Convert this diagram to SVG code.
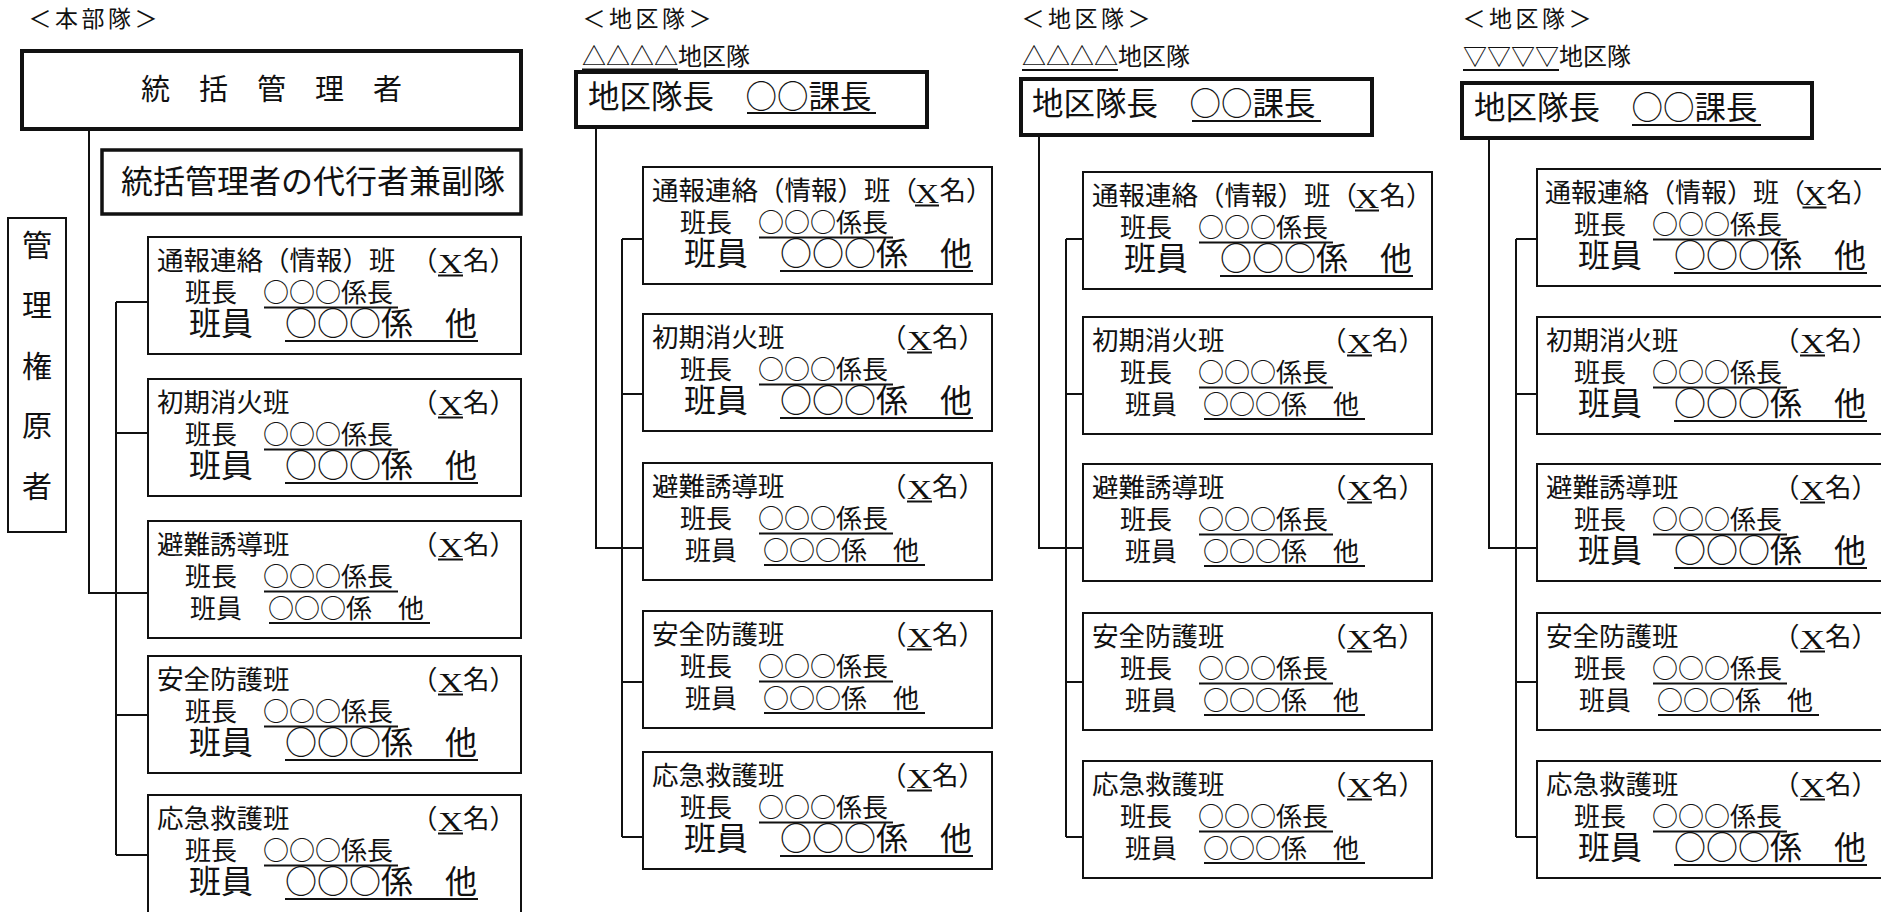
<svg xmlns="http://www.w3.org/2000/svg" width="1881" height="912" viewBox="0 0 1881 912">
<style>
.jp{font-family:"Noto Sans CJK JP","Noto Sans CJK SC",sans-serif;fill:#111}
.hd{font-size:23px;letter-spacing:3.5px}
.sub{font-size:24px}
.t1{font-size:26.5px}
.t2{font-size:26px}
.tb{font-size:32px}
.ld{font-size:31.5px}
.x{font-family:"Liberation Serif",serif;font-size:27px;fill:#111}
.box{fill:#fff;stroke:#111;stroke-width:2}
.thick{stroke-width:4}
.ul{stroke:#111;stroke-width:2}
.conn{fill:none;stroke:#111;stroke-width:2}
</style>
<defs>
<g id="l2">
<text class="jp t2" x="37" y="64.5">班長　○○○係長</text>
<line class="ul" x1="116" y1="70.5" x2="250" y2="70.5"/>
</g>
<g id="l3b">
<text class="jp tb" x="41" y="98">班員　○○○係　他</text>
<line class="ul" x1="137" y1="104" x2="330" y2="104"/>
</g>
<g id="l3s">
<text class="jp t2" x="42" y="97">班員　○○○係　他</text>
<line class="ul" x1="121" y1="102" x2="282" y2="102"/>
</g>
</defs>
<rect width="1881" height="912" fill="#fff"/>

<!-- headers -->
<g id="headers">
<text class="jp hd" x="28.5" y="27">＜本部隊＞</text>
<text class="jp hd" x="582.5" y="27">＜地区隊＞</text>
<text class="jp hd" x="1021.5" y="27">＜地区隊＞</text>
<text class="jp hd" x="1462.5" y="27">＜地区隊＞</text>
<text class="jp sub" x="582" y="65">△△△△地区隊</text>
<line class="ul" x1="582" y1="69.5" x2="678" y2="69.5"/>
<text class="jp sub" x="1022" y="65">△△△△地区隊</text>
<line class="ul" x1="1022" y1="70" x2="1118" y2="70"/>
<text class="jp sub" x="1463" y="65">▽▽▽▽地区隊</text>
<line class="ul" x1="1463" y1="70" x2="1559" y2="70"/>
</g>

<!-- connectors -->
<g id="connectors" class="conn">
<path d="M89,129 V593 H148"/>
<path d="M116,302 V855"/>
<path d="M116,302 H148 M116,433 H148 M116,715 H148 M116,855 H148"/>
<path d="M596,127 V548 H643"/>
<path d="M622,239 V837"/>
<path d="M622,239 H643 M622,394 H643 M622,682 H643 M622,837 H643"/>
<path d="M1039,135 V548 H1083"/>
<path d="M1066,239 V837"/>
<path d="M1066,239 H1083 M1066,394 H1083 M1066,682 H1083 M1066,837 H1083"/>
<path d="M1489,138 V548 H1537"/>
<path d="M1516,239 V837"/>
<path d="M1516,239 H1537 M1516,394 H1537 M1516,682 H1537 M1516,837 H1537"/>
</g>

<!-- column 1: 本部隊 -->
<g id="sokatsu">
<rect class="box thick" x="22" y="51" width="499" height="78"/>
<text class="jp" style="font-size:29px" x="271.5" y="100" text-anchor="middle">統　括　管　理　者</text>
</g>
<g id="dairi">
<rect class="box" style="stroke-width:3.5" x="102" y="150" width="419" height="64"/>
<text class="jp" style="font-size:32px" x="121" y="193">統括管理者の代行者兼副隊</text>
</g>
<g id="kanrikengensha">
<rect class="box" x="8" y="218" width="58" height="314"/>
<g class="jp" style="font-size:30px" text-anchor="middle">
<text x="37" y="256">管</text>
<text x="37" y="316">理</text>
<text x="37" y="377">権</text>
<text x="37" y="436">原</text>
<text x="37" y="497">者</text>
</g>
</g>

<g id="h1" transform="translate(148,237)">
<rect class="box" width="373" height="117"/>
<text class="jp t1" x="9" y="33">通報連絡（情報）班</text>
<text class="jp t1" x="263" y="33">（</text><text class="x" x="290" y="36" textLength="25" lengthAdjust="spacingAndGlyphs">X</text><line class="ul" x1="290" y1="38.5" x2="315" y2="38.5"/><text class="jp t1" x="315" y="33">名）</text>
<use href="#l2"/><use href="#l3b"/>
</g>
<g id="h2" transform="translate(148,379)">
<rect class="box" width="373" height="117"/>
<text class="jp t1" x="9" y="33">初期消火班</text>
<text class="jp t1" x="263" y="33">（</text><text class="x" x="290" y="36" textLength="25" lengthAdjust="spacingAndGlyphs">X</text><line class="ul" x1="290" y1="38.5" x2="315" y2="38.5"/><text class="jp t1" x="315" y="33">名）</text>
<use href="#l2"/><use href="#l3b"/>
</g>
<g id="h3" transform="translate(148,521)">
<rect class="box" width="373" height="117"/>
<text class="jp t1" x="9" y="33">避難誘導班</text>
<text class="jp t1" x="263" y="33">（</text><text class="x" x="290" y="36" textLength="25" lengthAdjust="spacingAndGlyphs">X</text><line class="ul" x1="290" y1="38.5" x2="315" y2="38.5"/><text class="jp t1" x="315" y="33">名）</text>
<use href="#l2"/><use href="#l3s"/>
</g>
<g id="h4" transform="translate(148,656)">
<rect class="box" width="373" height="117"/>
<text class="jp t1" x="9" y="33">安全防護班</text>
<text class="jp t1" x="263" y="33">（</text><text class="x" x="290" y="36" textLength="25" lengthAdjust="spacingAndGlyphs">X</text><line class="ul" x1="290" y1="38.5" x2="315" y2="38.5"/><text class="jp t1" x="315" y="33">名）</text>
<use href="#l2"/><use href="#l3b"/>
</g>
<g id="h5" transform="translate(148,795)">
<rect class="box" width="373" height="125"/>
<text class="jp t1" x="9" y="33">応急救護班</text>
<text class="jp t1" x="263" y="33">（</text><text class="x" x="290" y="36" textLength="25" lengthAdjust="spacingAndGlyphs">X</text><line class="ul" x1="290" y1="38.5" x2="315" y2="38.5"/><text class="jp t1" x="315" y="33">名）</text>
<use href="#l2"/><use href="#l3b"/>
</g>

<!-- column 2 -->
<g id="a-leader">
<rect class="box thick" x="576" y="72" width="351" height="55"/>
<text class="jp ld" x="588" y="108">地区隊長　○○課長</text>
<line class="ul" x1="747" y1="113" x2="876" y2="113"/>
</g>
<g id="a1" transform="translate(643,167)">
<rect class="box" width="349" height="117"/>
<text class="jp t1" x="9" y="33">通報連絡（情報）班</text>
<text class="jp t1" x="247.5" y="33">（</text><text class="x" x="272" y="36" textLength="24" lengthAdjust="spacingAndGlyphs">X</text><line class="ul" x1="272" y1="38.5" x2="296" y2="38.5"/><text class="jp t1" x="296.5" y="33">名）</text>
<use href="#l2"/><use href="#l3b"/>
</g>
<g id="a2" transform="translate(643,314)">
<rect class="box" width="349" height="117"/>
<text class="jp t1" x="9" y="33">初期消火班</text>
<text class="jp t1" x="237" y="33">（</text><text class="x" x="264" y="36" textLength="25" lengthAdjust="spacingAndGlyphs">X</text><line class="ul" x1="264" y1="38.5" x2="289" y2="38.5"/><text class="jp t1" x="289" y="33">名）</text>
<use href="#l2"/><use href="#l3b"/>
</g>
<g id="a3" transform="translate(643,463)">
<rect class="box" width="349" height="117"/>
<text class="jp t1" x="9" y="33">避難誘導班</text>
<text class="jp t1" x="237" y="33">（</text><text class="x" x="264" y="36" textLength="25" lengthAdjust="spacingAndGlyphs">X</text><line class="ul" x1="264" y1="38.5" x2="289" y2="38.5"/><text class="jp t1" x="289" y="33">名）</text>
<use href="#l2"/><use href="#l3s"/>
</g>
<g id="a4" transform="translate(643,611)">
<rect class="box" width="349" height="117"/>
<text class="jp t1" x="9" y="33">安全防護班</text>
<text class="jp t1" x="237" y="33">（</text><text class="x" x="264" y="36" textLength="25" lengthAdjust="spacingAndGlyphs">X</text><line class="ul" x1="264" y1="38.5" x2="289" y2="38.5"/><text class="jp t1" x="289" y="33">名）</text>
<use href="#l2"/><use href="#l3s"/>
</g>
<g id="a5" transform="translate(643,752)">
<rect class="box" width="349" height="117"/>
<text class="jp t1" x="9" y="33">応急救護班</text>
<text class="jp t1" x="237" y="33">（</text><text class="x" x="264" y="36" textLength="25" lengthAdjust="spacingAndGlyphs">X</text><line class="ul" x1="264" y1="38.5" x2="289" y2="38.5"/><text class="jp t1" x="289" y="33">名）</text>
<use href="#l2"/><use href="#l3b"/>
</g>

<!-- column 3 -->
<g id="b-leader">
<rect class="box thick" x="1021" y="79" width="351" height="56"/>
<text class="jp ld" x="1032" y="115">地区隊長　○○課長</text>
<line class="ul" x1="1192" y1="121" x2="1321" y2="121"/>
</g>
<g id="b1" transform="translate(1083,172)">
<rect class="box" width="349" height="117"/>
<text class="jp t1" x="9" y="33">通報連絡（情報）班</text>
<text class="jp t1" x="247.5" y="33">（</text><text class="x" x="272" y="36" textLength="24" lengthAdjust="spacingAndGlyphs">X</text><line class="ul" x1="272" y1="38.5" x2="296" y2="38.5"/><text class="jp t1" x="296.5" y="33">名）</text>
<use href="#l2"/><use href="#l3b"/>
</g>
<g id="b2" transform="translate(1083,317)">
<rect class="box" width="349" height="117"/>
<text class="jp t1" x="9" y="33">初期消火班</text>
<text class="jp t1" x="237" y="33">（</text><text class="x" x="264" y="36" textLength="25" lengthAdjust="spacingAndGlyphs">X</text><line class="ul" x1="264" y1="38.5" x2="289" y2="38.5"/><text class="jp t1" x="289" y="33">名）</text>
<use href="#l2"/><use href="#l3s"/>
</g>
<g id="b3" transform="translate(1083,464)">
<rect class="box" width="349" height="117"/>
<text class="jp t1" x="9" y="33">避難誘導班</text>
<text class="jp t1" x="237" y="33">（</text><text class="x" x="264" y="36" textLength="25" lengthAdjust="spacingAndGlyphs">X</text><line class="ul" x1="264" y1="38.5" x2="289" y2="38.5"/><text class="jp t1" x="289" y="33">名）</text>
<use href="#l2"/><use href="#l3s"/>
</g>
<g id="b4" transform="translate(1083,613)">
<rect class="box" width="349" height="117"/>
<text class="jp t1" x="9" y="33">安全防護班</text>
<text class="jp t1" x="237" y="33">（</text><text class="x" x="264" y="36" textLength="25" lengthAdjust="spacingAndGlyphs">X</text><line class="ul" x1="264" y1="38.5" x2="289" y2="38.5"/><text class="jp t1" x="289" y="33">名）</text>
<use href="#l2"/><use href="#l3s"/>
</g>
<g id="b5" transform="translate(1083,761)">
<rect class="box" width="349" height="117"/>
<text class="jp t1" x="9" y="33">応急救護班</text>
<text class="jp t1" x="237" y="33">（</text><text class="x" x="264" y="36" textLength="25" lengthAdjust="spacingAndGlyphs">X</text><line class="ul" x1="264" y1="38.5" x2="289" y2="38.5"/><text class="jp t1" x="289" y="33">名）</text>
<use href="#l2"/><use href="#l3s"/>
</g>

<!-- column 4 -->
<g id="c-leader">
<rect class="box thick" x="1462" y="83" width="350" height="55"/>
<text class="jp ld" x="1474" y="119">地区隊長　○○課長</text>
<line class="ul" x1="1632" y1="125" x2="1761" y2="125"/>
</g>
<g id="c1" transform="translate(1537,169)">
<rect class="box" width="349" height="117"/>
<text class="jp t2" x="8" y="33">通報連絡（情報）班</text>
<text class="jp t2" x="242" y="33">（</text><text class="x" x="265.5" y="36" textLength="24" lengthAdjust="spacingAndGlyphs">X</text><line class="ul" x1="265.5" y1="38.5" x2="289.5" y2="38.5"/><text class="jp t2" x="289.5" y="33">名）</text>
<use href="#l2"/><use href="#l3b"/>
</g>
<g id="c2" transform="translate(1537,317)">
<rect class="box" width="349" height="117"/>
<text class="jp t1" x="9" y="33">初期消火班</text>
<text class="jp t1" x="236" y="33">（</text><text class="x" x="263" y="36" textLength="25" lengthAdjust="spacingAndGlyphs">X</text><line class="ul" x1="263" y1="38.5" x2="288" y2="38.5"/><text class="jp t1" x="288" y="33">名）</text>
<use href="#l2"/><use href="#l3b"/>
</g>
<g id="c3" transform="translate(1537,464)">
<rect class="box" width="349" height="117"/>
<text class="jp t1" x="9" y="33">避難誘導班</text>
<text class="jp t1" x="236" y="33">（</text><text class="x" x="263" y="36" textLength="25" lengthAdjust="spacingAndGlyphs">X</text><line class="ul" x1="263" y1="38.5" x2="288" y2="38.5"/><text class="jp t1" x="288" y="33">名）</text>
<use href="#l2"/><use href="#l3b"/>
</g>
<g id="c4" transform="translate(1537,613)">
<rect class="box" width="349" height="117"/>
<text class="jp t1" x="9" y="33">安全防護班</text>
<text class="jp t1" x="236" y="33">（</text><text class="x" x="263" y="36" textLength="25" lengthAdjust="spacingAndGlyphs">X</text><line class="ul" x1="263" y1="38.5" x2="288" y2="38.5"/><text class="jp t1" x="288" y="33">名）</text>
<use href="#l2"/><use href="#l3s"/>
</g>
<g id="c5" transform="translate(1537,761)">
<rect class="box" width="349" height="117"/>
<text class="jp t1" x="9" y="33">応急救護班</text>
<text class="jp t1" x="236" y="33">（</text><text class="x" x="263" y="36" textLength="25" lengthAdjust="spacingAndGlyphs">X</text><line class="ul" x1="263" y1="38.5" x2="288" y2="38.5"/><text class="jp t1" x="288" y="33">名）</text>
<use href="#l2"/><use href="#l3b"/>
</g>
</svg>
